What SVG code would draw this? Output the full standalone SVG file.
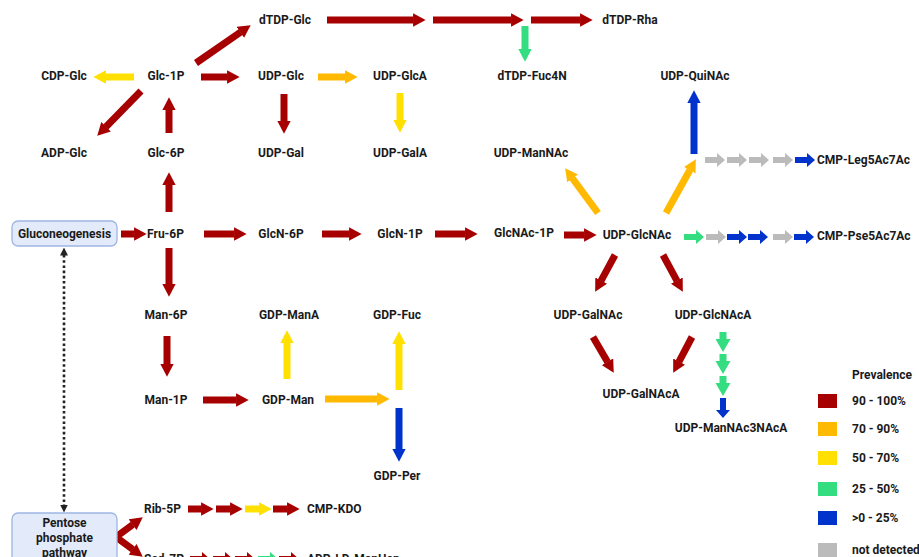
<svg xmlns="http://www.w3.org/2000/svg" xmlns:xlink="http://www.w3.org/1999/xlink" width="919" height="557" viewBox="0 0 919 557">
<style>
text{font-family:Roboto,"Liberation Sans",Arial,sans-serif;font-weight:700;font-size:12px;fill:#1a1a1a}
.c{text-anchor:middle}
.box{fill:#E3EBFA;stroke:#9FB6E2;stroke-width:1.3}
.big{fill:none;stroke-width:7;stroke-linecap:butt}
.r{stroke:#A60000}.o{stroke:#FFB900}.y{stroke:#FFE000}.g{stroke:#33DD80}.b{stroke:#0033CC}
.fr{fill:#A60000}.fo{fill:#FFB900}.fy{fill:#FFE000}.fg{fill:#33DD80}.fb{fill:#0033CC}.fn{fill:#BBBBBB}
</style>
<defs>
<marker id="mr" viewBox="0 0 1.8 1.9" markerWidth="1.8" markerHeight="1.9" refX="0.05" refY="0.95" orient="auto-start-reverse" markerUnits="strokeWidth"><path d="M0,0 L1.8,0.95 L0,1.9 Z" fill="#A60000"/></marker>
<marker id="mo" viewBox="0 0 1.8 1.9" markerWidth="1.8" markerHeight="1.9" refX="0.05" refY="0.95" orient="auto" markerUnits="strokeWidth"><path d="M0,0 L1.8,0.95 L0,1.9 Z" fill="#FFB900"/></marker>
<marker id="my" viewBox="0 0 1.8 1.9" markerWidth="1.8" markerHeight="1.9" refX="0.05" refY="0.95" orient="auto" markerUnits="strokeWidth"><path d="M0,0 L1.8,0.95 L0,1.9 Z" fill="#FFE000"/></marker>
<marker id="mg" viewBox="0 0 1.8 1.9" markerWidth="1.8" markerHeight="1.9" refX="0.05" refY="0.95" orient="auto" markerUnits="strokeWidth"><path d="M0,0 L1.8,0.95 L0,1.9 Z" fill="#33DD80"/></marker>
<marker id="mb" viewBox="0 0 1.8 1.9" markerWidth="1.8" markerHeight="1.9" refX="0.05" refY="0.95" orient="auto" markerUnits="strokeWidth"><path d="M0,0 L1.8,0.95 L0,1.9 Z" fill="#0033CC"/></marker>
<marker id="mk" viewBox="0 0 8 8" markerWidth="8" markerHeight="8" refX="0.5" refY="4" orient="auto-start-reverse" markerUnits="userSpaceOnUse"><path d="M0,0 L8,4 L0,8 Z" fill="#222"/></marker>
<path id="sa" d="M0,-3 H12 V-7 L20,0 L12,7 V3 H0 Z"/>
<path id="sd" d="M0,-3.5 H7 V-7.5 L20,0 L7,7.5 V3.5 H0 Z"/>
</defs>

<g id="connectors">
<line class="big r" x1="196" y1="63" x2="240.6" y2="32.2" marker-end="url(#mr)"/>
<line class="big r" x1="327" y1="20" x2="413.4" y2="20" marker-end="url(#mr)"/>
<line class="big r" x1="433" y1="20" x2="511.4" y2="20" marker-end="url(#mr)"/>
<line class="big r" x1="531" y1="20" x2="580.4" y2="20" marker-end="url(#mr)"/>
<line class="big g" x1="525" y1="26" x2="525" y2="49.4" marker-end="url(#mg)"/>
<line class="big y" x1="134" y1="77" x2="105.6" y2="77" marker-end="url(#my)"/>
<line class="big r" x1="141" y1="91" x2="105.8" y2="127" marker-end="url(#mr)"/>
<line class="big r" x1="169" y1="133" x2="169" y2="109.6" marker-end="url(#mr)"/>
<line class="big r" x1="201" y1="77" x2="227.4" y2="77" marker-end="url(#mr)"/>
<line class="big o" x1="318" y1="77" x2="345.4" y2="77" marker-end="url(#mo)"/>
<line class="big r" x1="284" y1="94" x2="284" y2="121.4" marker-end="url(#mr)"/>
<line class="big y" x1="400" y1="93" x2="400" y2="120.4" marker-end="url(#my)"/>
<line class="big r" x1="169" y1="212" x2="169" y2="184.6" marker-end="url(#mr)"/>
<line class="big r" x1="121" y1="234" x2="134.4" y2="234" marker-end="url(#mr)"/>
<line class="big r" x1="204" y1="234" x2="234.4" y2="234" marker-end="url(#mr)"/>
<line class="big r" x1="322" y1="234" x2="349.4" y2="234" marker-end="url(#mr)"/>
<line class="big r" x1="435" y1="234" x2="465.4" y2="234" marker-end="url(#mr)"/>
<line class="big r" x1="564" y1="235" x2="584.4" y2="235" marker-end="url(#mr)"/>
<line class="big o" x1="598" y1="213" x2="572.4" y2="178.2" marker-end="url(#mo)"/>
<line class="big o" x1="666" y1="213" x2="689.9" y2="170" marker-end="url(#mo)"/>
<line class="big b" x1="694" y1="154" x2="694" y2="102.6" marker-end="url(#mb)"/>
<line class="big r" x1="615" y1="255" x2="601" y2="280.9" marker-end="url(#mr)"/>
<line class="big r" x1="663" y1="255" x2="677" y2="280.9" marker-end="url(#mr)"/>
<line class="big r" x1="593" y1="337" x2="607.6" y2="362.1" marker-end="url(#mr)"/>
<line class="big r" x1="692" y1="337" x2="678.9" y2="361.9" marker-end="url(#mr)"/>
<line class="big r" x1="169" y1="248" x2="169" y2="284.4" marker-end="url(#mr)"/>
<line class="big r" x1="167" y1="336" x2="167" y2="364.4" marker-end="url(#mr)"/>
<line class="big r" x1="203" y1="400" x2="236.4" y2="400" marker-end="url(#mr)"/>
<line class="big y" x1="287" y1="379" x2="287" y2="342.6" marker-end="url(#my)"/>
<line class="big o" x1="325" y1="399" x2="377.4" y2="399" marker-end="url(#mo)"/>
<line class="big y" x1="399" y1="390" x2="399" y2="343.6" marker-end="url(#my)"/>
<line class="big b" x1="399" y1="408" x2="399" y2="449.4" marker-end="url(#mb)"/>
<polyline class="big r" points="132.9,524.5 116,537 132.9,549.5" stroke-linejoin="miter" marker-start="url(#mr)" marker-end="url(#mr)"/>
<line class="big r" x1="188" y1="509" x2="201.4" y2="509" marker-end="url(#mr)"/>
<line class="big r" x1="216" y1="509" x2="230.4" y2="509" marker-end="url(#mr)"/>
<line class="big y" x1="245" y1="509" x2="259.4" y2="509" marker-end="url(#my)"/>
<line class="big r" x1="273" y1="509" x2="287.4" y2="509" marker-end="url(#mr)"/>
<line x1="64" y1="255" x2="64" y2="505" stroke="#222" stroke-width="2.6" stroke-dasharray="2.6 2.6" marker-start="url(#mk)" marker-end="url(#mk)"/>
<use href="#sa" xlink:href="#sa" class="fn" transform="translate(705,160)"/>
<use href="#sa" xlink:href="#sa" class="fn" transform="translate(727,160)"/>
<use href="#sa" xlink:href="#sa" class="fn" transform="translate(749,160)"/>
<use href="#sa" xlink:href="#sa" class="fn" transform="translate(773,160)"/>
<use href="#sa" xlink:href="#sa" class="fb" transform="translate(795,160)"/>
<use href="#sa" xlink:href="#sa" class="fg" transform="translate(684,237)"/>
<use href="#sa" xlink:href="#sa" class="fn" transform="translate(706,237)"/>
<use href="#sa" xlink:href="#sa" class="fb" transform="translate(727,237)"/>
<use href="#sa" xlink:href="#sa" class="fb" transform="translate(748,237)"/>
<use href="#sa" xlink:href="#sa" class="fn" transform="translate(773,237)"/>
<use href="#sa" xlink:href="#sa" class="fb" transform="translate(794,237)"/>
<use href="#sd" xlink:href="#sd" class="fg" transform="translate(723,332) rotate(90)"/>
<use href="#sd" xlink:href="#sd" class="fg" transform="translate(723,354) rotate(90)"/>
<use href="#sd" xlink:href="#sd" class="fg" transform="translate(723,376) rotate(90)"/>
<use href="#sa" xlink:href="#sa" class="fb" transform="translate(723,398) rotate(90)"/>
<use href="#sa" xlink:href="#sa" class="fr" transform="translate(190,559)"/>
<use href="#sa" xlink:href="#sa" class="fr" transform="translate(213,559)"/>
<use href="#sa" xlink:href="#sa" class="fr" transform="translate(235,559)"/>
<use href="#sa" xlink:href="#sa" class="fg" transform="translate(258,559)"/>
<use href="#sa" xlink:href="#sa" class="fr" transform="translate(279,559)"/>
</g>

<g id="n-gluconeogenesis"><rect class="box" x="12" y="221" width="105" height="25" rx="6"/><text class="c" x="64.5" y="238.3">Gluconeogenesis</text></g>
<g id="n-ppp"><rect class="box" x="12" y="513" width="105" height="60" rx="6"/><text class="c" x="64.5" y="527.3">Pentose</text><text class="c" x="64.5" y="542">phosphate</text><text class="c" x="64.5" y="556.5">pathway</text></g>

<g id="n-dtdpglc"><text class="c" x="285" y="24.3">dTDP-Glc</text></g>
<g id="n-dtdprha"><text class="c" x="630" y="24.3">dTDP-Rha</text></g>
<g id="n-cdpglc"><text class="c" x="64" y="80.3">CDP-Glc</text></g>
<g id="n-glc1p"><text class="c" x="166" y="80.3">Glc-1P</text></g>
<g id="n-udpglc"><text class="c" x="281" y="80.3">UDP-Glc</text></g>
<g id="n-udpglca"><text class="c" x="400" y="80.3">UDP-GlcA</text></g>
<g id="n-dtdpfuc4n"><text class="c" x="532" y="80.3">dTDP-Fuc4N</text></g>
<g id="n-udpquinac"><text class="c" x="695" y="80.3">UDP-QuiNAc</text></g>
<g id="n-adpglc"><text class="c" x="64" y="157.3">ADP-Glc</text></g>
<g id="n-glc6p"><text class="c" x="166" y="157.3">Glc-6P</text></g>
<g id="n-udpgal"><text class="c" x="281" y="157.3">UDP-Gal</text></g>
<g id="n-udpgala"><text class="c" x="400" y="157.3">UDP-GalA</text></g>
<g id="n-udpmannac"><text class="c" x="531" y="157.3">UDP-ManNAc</text></g>
<g id="n-cmpleg"><text x="817" y="164.3">CMP-Leg5Ac7Ac</text></g>
<g id="n-fru6p"><text class="c" x="165.5" y="238.3">Fru-6P</text></g>
<g id="n-glcn6p"><text class="c" x="281" y="238.3">GlcN-6P</text></g>
<g id="n-glcn1p"><text class="c" x="400" y="238.3">GlcN-1P</text></g>
<g id="n-glcnac1p"><text class="c" x="524" y="237.3">GlcNAc-1P</text></g>
<g id="n-udpglcnac"><text class="c" x="637" y="239.3">UDP-GlcNAc</text></g>
<g id="n-cmppse"><text x="817" y="240.3">CMP-Pse5Ac7Ac</text></g>
<g id="n-man6p"><text class="c" x="166" y="319.3">Man-6P</text></g>
<g id="n-gdpmana"><text class="c" x="289" y="319.3">GDP-ManA</text></g>
<g id="n-gdpfuc"><text class="c" x="397" y="319.3">GDP-Fuc</text></g>
<g id="n-udpgalnac"><text class="c" x="588" y="319.3">UDP-GalNAc</text></g>
<g id="n-udpglcnaca"><text class="c" x="713" y="319.3">UDP-GlcNAcA</text></g>
<g id="n-man1p"><text class="c" x="166" y="404.3">Man-1P</text></g>
<g id="n-gdpman"><text class="c" x="288" y="404.3">GDP-Man</text></g>
<g id="n-udpgalnaca"><text class="c" x="641" y="398.3">UDP-GalNAcA</text></g>
<g id="n-udpmannac3naca"><text class="c" x="731" y="432.3">UDP-ManNAc3NAcA</text></g>
<g id="n-gdpper"><text class="c" x="397" y="480.3">GDP-Per</text></g>
<g id="n-rib5p"><text x="144" y="513.3">Rib-5P</text></g>
<g id="n-cmpkdo"><text x="307" y="513.3">CMP-KDO</text></g>
<g id="n-sed7p"><text x="144" y="563.3">Sed-7P</text></g>
<g id="n-adpldmanhep"><text x="307" y="563.3">ADP-LD-ManHep</text></g>

<g id="legend">
<text x="852" y="379.3">Prevalence</text>
<rect class="fr" x="818" y="394" width="19" height="14"/><text x="852" y="405.3">90 - 100%</text>
<rect class="fo" x="818" y="422" width="19" height="14"/><text x="852" y="433.3">70 - 90%</text>
<rect class="fy" x="818" y="451" width="19" height="14"/><text x="852" y="462.3">50 - 70%</text>
<rect class="fg" x="818" y="482" width="19" height="14"/><text x="852" y="493.3">25 - 50%</text>
<rect class="fb" x="818" y="511" width="19" height="14"/><text x="852" y="522.3">&gt;0 - 25%</text>
<rect class="fn" x="818" y="543" width="19" height="14"/><text x="852" y="554.3">not detected</text>
</g>
</svg>
